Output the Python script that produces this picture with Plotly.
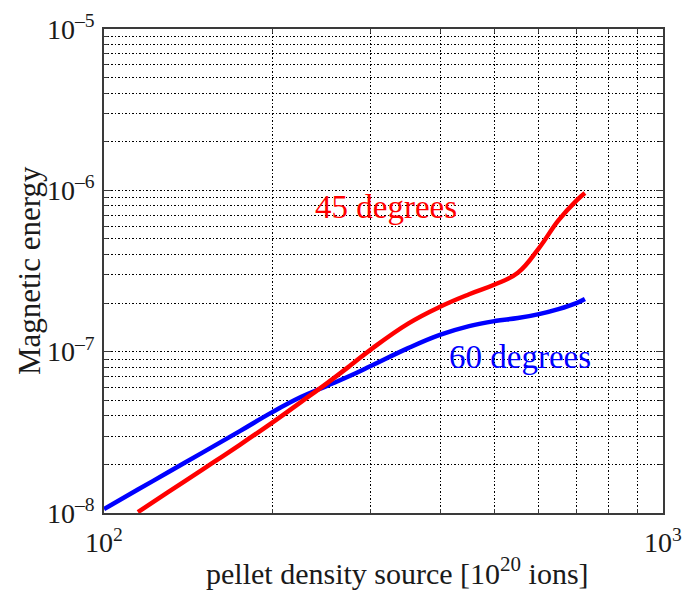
import math
import plotly.graph_objects as go

# Data
x_blue = [100, 115, 130, 150, 175, 200, 225, 250, 275, 300, 350, 400, 450, 500, 550, 600, 650, 700, 725]
y_blue = [1.057e-8, 1.397e-8, 1.782e-8, 2.368e-8, 3.219e-8, 4.221e-8, 5.231e-8, 6.118e-8, 7.060e-8, 8.140e-8,
          1.052e-7, 1.275e-7, 1.441e-7, 1.548e-7, 1.615e-7, 1.710e-7, 1.837e-7, 2.001e-7, 2.119e-7]

x_red = [115, 130, 150, 175, 200, 225, 250, 275, 300, 350, 400, 450, 500, 550, 600, 650, 700, 725]
y_red = [1.013e-8, 1.340e-8, 1.858e-8, 2.648e-8, 3.634e-8, 4.869e-8, 6.340e-8, 8.140e-8, 1.030e-7, 1.493e-7,
         1.904e-7, 2.269e-7, 2.606e-7, 3.083e-7, 4.387e-7, 6.516e-7, 8.633e-7, 9.623e-7]

label_red = "45 degrees"
label_blue = "60 degrees"
label_red_pos = (320, 7.88e-7)
label_blue_pos = (555, 9.27e-8)

x_major = [100, 1000]
x_major_text = ["10<sup>2</sup>", "10<sup>3</sup>"]
y_major = [1e-8, 1e-7, 1e-6, 1e-5]
y_major_text = ["10<sup>–8</sup>", "10<sup>–7</sup>", "10<sup>–6</sup>", "10<sup>–5</sup>"]

x_minor = [200, 300, 400, 500, 600, 700, 800, 900]
y_minor = [m * 10.0 ** e for e in (-8, -7, -6) for m in range(2, 10)]

x_title = "pellet density source [10<sup>20</sup> ions]"
y_title = "Magnetic energy"

FONT = "Liberation Serif, Times New Roman, serif"
TXT = "#1a1a1a"
grid_dash = "2px,2px,1px,2px"

fig = go.Figure()
fig.add_trace(go.Scatter(x=x_blue, y=y_blue, mode="lines",
                         line=dict(color="#0000ff", width=4.5, shape="spline", smoothing=1.2),
                         showlegend=False))
fig.add_trace(go.Scatter(x=x_red, y=y_red, mode="lines",
                         line=dict(color="#ff0000", width=4.5, shape="spline", smoothing=1.2),
                         showlegend=False))

fig.add_annotation(x=math.log10(label_red_pos[0]), y=math.log10(label_red_pos[1]), text=label_red,
                   showarrow=False, font=dict(family=FONT, size=33, color="#ff0000"))
fig.add_annotation(x=math.log10(label_blue_pos[0]), y=math.log10(label_blue_pos[1]), text=label_blue,
                   showarrow=False, font=dict(family=FONT, size=33, color="#0000ff"))

# axis titles as paper-positioned annotations
fig.add_annotation(xref="paper", yref="paper", x=0.525, y=-0.12, yanchor="middle",
                   text=x_title, showarrow=False, font=dict(family=FONT, size=30, color=TXT))
fig.add_annotation(xref="paper", yref="paper", x=-0.134, y=0.5, xanchor="center", yanchor="middle",
                   textangle=-90, text=y_title, showarrow=False,
                   font=dict(family=FONT, size=31, color=TXT))

axis_common = dict(
    type="log", automargin=False,
    showline=True, linecolor="#3a3a3a", linewidth=1.5, mirror="ticks",
    ticks="inside", ticklen=7, tickcolor="#3a3a3a", tickwidth=1,
    showgrid=True, gridcolor="#000000", gridwidth=1, griddash=grid_dash,
    zeroline=False, ticklabeloverflow="allow",
    tickfont=dict(family=FONT, size=28, color=TXT),
)

fig.update_xaxes(**axis_common, range=[2, 3],
                 tickmode="array", tickvals=x_major, ticktext=x_major_text,
                 minor=dict(tickvals=x_minor, ticks="inside", ticklen=4, tickcolor="#3a3a3a",
                            showgrid=True, gridcolor="#000000", gridwidth=1, griddash=grid_dash),
                 ticklabelstandoff=4)
fig.update_yaxes(**axis_common, range=[-8, -5],
                 tickmode="array", tickvals=y_major, ticktext=y_major_text,
                 minor=dict(tickvals=y_minor, ticks="inside", ticklen=4, tickcolor="#3a3a3a",
                            showgrid=True, gridcolor="#000000", gridwidth=1, griddash=grid_dash),
                 ticklabelstandoff=2)

fig.update_layout(
    width=682, height=604,
    margin=dict(l=104, r=19, t=29, b=91),
    paper_bgcolor="white", plot_bgcolor="white",
    showlegend=False,
)

fig.write_html("out.html")
